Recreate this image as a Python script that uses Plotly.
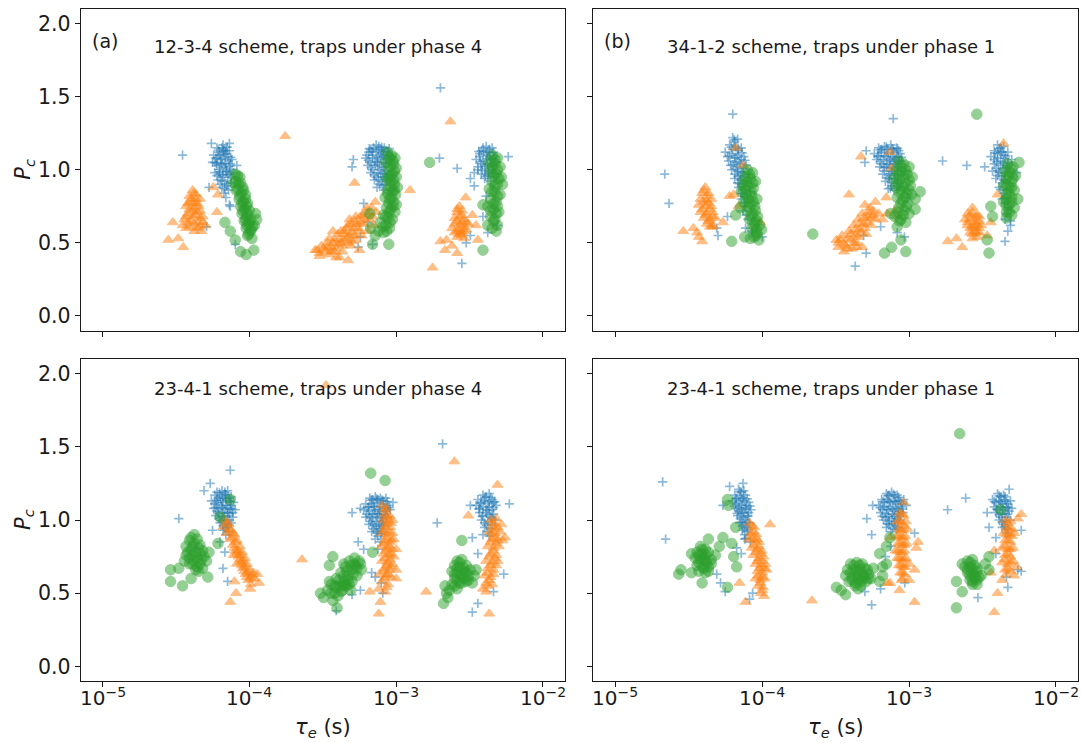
import plotly.graph_objects as go

# ---------------------------------------------------------------------------
# Emission time constant tau_e (s) and capture probability P_c for each trap,
# one list of (tau_e, P_c) pairs per scheme panel and per marker series.
# ---------------------------------------------------------------------------

# (a) 12-3-4 scheme, traps under phase 4
a_blue = [
    (6.5e-5, 1.15), (6.2e-5, 1.12), (6.9e-5, 1.13), (5.9e-5, 1.08), (6.4e-5, 1.07), (7.1e-5, 1.09),
    (6.0e-5, 1.03), (6.7e-5, 1.02), (7.4e-5, 1.04), (5.8e-5, 0.98), (6.3e-5, 0.97), (7.0e-5, 0.99),
    (6.1e-5, 0.93), (6.8e-5, 0.92), (7.5e-5, 0.95), (6.5e-5, 0.88), (7.2e-5, 0.86), (6.9e-5, 0.81),
    (7.3e-5, 0.76), (6.6e-5, 1.17), (7.6e-5, 1.00), (5.6e-5, 1.05),
    (6.0e-5, 1.15), (6.7e-5, 1.14), (7.3e-5, 1.13), (5.7e-5, 1.10), (6.3e-5, 1.10), (6.9e-5, 1.11),
    (7.6e-5, 1.07), (5.8e-5, 1.05), (6.5e-5, 1.04), (7.2e-5, 1.06), (6.2e-5, 1.00), (6.9e-5, 1.01),
    (7.8e-5, 0.98), (6.0e-5, 0.96), (6.6e-5, 0.95), (7.3e-5, 0.97), (6.3e-5, 0.90), (7.0e-5, 0.89),
    (6.7e-5, 0.84), (7.5e-5, 0.91),
    (6.15e-5, 1.135), (6.75e-5, 1.105), (7.05e-5, 1.155), (5.95e-5, 1.045), (6.55e-5, 1.075),
    (7.35e-5, 1.025), (6.25e-5, 0.985), (6.85e-5, 1.045), (7.15e-5, 0.965), (6.45e-5, 0.925),
    (7.05e-5, 0.905), (6.65e-5, 1.125), (6.35e-5, 1.035), (7.45e-5, 1.085), (6.05e-5, 1.085),
    (6.95e-5, 0.985), (6.55e-5, 0.965), (6.8e-5, 0.87),
    (3.5e-5, 1.10), (5.5e-5, 1.18), (7.3e-5, 1.18), (8.2e-5, 1.03), (5.3e-5, 0.88), (7.4e-5, 0.75),
    (8.0e-5, 0.49), (5.1e-5, 0.61),
    (7.0e-4, 1.15), (7.6e-4, 1.16), (8.3e-4, 1.15), (6.5e-4, 1.12), (7.3e-4, 1.12), (8.0e-4, 1.11),
    (8.8e-4, 1.12), (6.2e-4, 1.08), (6.9e-4, 1.08), (7.7e-4, 1.07), (8.5e-4, 1.08), (9.3e-4, 1.09),
    (6.4e-4, 1.03), (7.2e-4, 1.03), (8.0e-4, 1.02), (8.9e-4, 1.04), (6.7e-4, 0.98), (7.5e-4, 0.98),
    (8.3e-4, 0.97), (7.1e-4, 0.93), (7.9e-4, 0.92), (8.7e-4, 0.94), (7.4e-4, 0.88), (8.2e-4, 0.86),
    (6.7e-4, 1.14), (7.3e-4, 1.17), (7.9e-4, 1.14), (8.6e-4, 1.13), (6.3e-4, 1.10), (6.9e-4, 1.10),
    (7.5e-4, 1.09), (8.2e-4, 1.10), (9.0e-4, 1.10), (6.6e-4, 1.05), (7.4e-4, 1.05), (8.2e-4, 1.05),
    (9.1e-4, 1.06), (6.9e-4, 1.00), (7.7e-4, 1.00), (8.5e-4, 0.99), (7.3e-4, 0.95), (8.1e-4, 0.95),
    (8.9e-4, 0.97), (7.7e-4, 0.90), (8.4e-4, 0.90),
    (6.85e-4, 1.125), (7.55e-4, 1.135), (8.15e-4, 1.125), (8.75e-4, 1.095), (6.45e-4, 1.065),
    (7.15e-4, 1.055), (7.85e-4, 1.085), (8.45e-4, 1.045), (9.05e-4, 1.075), (6.75e-4, 1.015),
    (7.45e-4, 1.035), (8.25e-4, 1.015), (7.05e-4, 0.965), (7.85e-4, 0.975), (8.55e-4, 0.955),
    (7.55e-4, 0.935), (8.05e-4, 0.895), (7.95e-4, 1.155), (8.95e-4, 1.145), (6.55e-4, 1.145),
    (5.1e-4, 1.07), (5.0e-4, 1.02), (6.0e-4, 0.77), (6.4e-4, 0.64), (5.7e-4, 0.54), (5.5e-4, 0.47),
    (8.7e-4, 0.93), (6.9e-4, 0.49), (2.0e-3, 1.56), (1.97e-3, 1.08), (2.6e-3, 1.01),
    (3.9e-3, 1.15), (4.3e-3, 1.14), (3.7e-3, 1.11), (4.1e-3, 1.10), (4.6e-3, 1.12), (3.5e-3, 1.07),
    (3.9e-3, 1.06), (4.4e-3, 1.07), (4.8e-3, 1.05), (3.6e-3, 1.02), (4.0e-3, 1.01), (4.5e-3, 1.00),
    (3.8e-3, 0.97), (4.2e-3, 0.96), (4.7e-3, 0.95), (3.4e-3, 0.98),
    (4.1e-3, 1.16), (3.8e-3, 1.13), (4.5e-3, 1.15), (4.2e-3, 1.12), (3.7e-3, 1.09), (4.3e-3, 1.09),
    (4.7e-3, 1.09), (3.8e-3, 1.04), (4.2e-3, 1.04), (4.6e-3, 1.03), (3.6e-3, 1.00), (4.3e-3, 0.99),
    (4.0e-3, 0.94), (4.4e-3, 0.92),
    (3.95e-3, 1.125), (4.35e-3, 1.115), (4.55e-3, 1.075), (3.75e-3, 1.055), (4.15e-3, 1.075),
    (4.05e-3, 1.025), (4.45e-3, 1.035), (3.85e-3, 0.995), (4.25e-3, 0.975), (4.6e-3, 0.975),
    (3.65e-3, 1.125), (4.05e-3, 0.955),
    (5.8e-3, 1.09), (3.2e-3, 0.94), (3.4e-3, 0.89), (4.1e-3, 0.82), (3.9e-3, 0.68), (4.2e-3, 0.57),
    (4.9e-3, 0.62), (3.0e-3, 0.50), (2.8e-3, 0.36), (3.2e-3, 0.55),
]
a_orange = [
    (4.1e-5, 0.86), (3.9e-5, 0.82), (4.3e-5, 0.83), (4.0e-5, 0.78), (4.4e-5, 0.77), (3.7e-5, 0.75),
    (4.2e-5, 0.74), (4.6e-5, 0.72), (3.8e-5, 0.70), (4.3e-5, 0.69), (4.8e-5, 0.68), (3.6e-5, 0.66),
    (4.0e-5, 0.65), (4.5e-5, 0.64), (5.0e-5, 0.62), (3.9e-5, 0.61), (4.4e-5, 0.60), (3.5e-5, 0.62),
    (4.7e-5, 0.58), (4.1e-5, 0.72), (4.6e-5, 0.80),
    (4.2e-5, 0.84), (4.0e-5, 0.80), (4.3e-5, 0.80), (3.8e-5, 0.77), (4.2e-5, 0.77), (4.5e-5, 0.75),
    (3.9e-5, 0.73), (4.4e-5, 0.71), (3.7e-5, 0.68), (4.1e-5, 0.68), (4.6e-5, 0.67), (3.8e-5, 0.64),
    (4.2e-5, 0.63), (4.8e-5, 0.64), (3.7e-5, 0.60), (4.2e-5, 0.58), (4.6e-5, 0.61),
    (2.8e-5, 0.52), (3.0e-5, 0.64), (3.27e-5, 0.53), (3.54e-5, 0.47), (5.66e-5, 0.88), (6.1e-5, 0.83),
    (6.0e-5, 0.71), (1.75e-4, 1.23),
    (2.9e-4, 0.45), (3.1e-4, 0.48), (3.3e-4, 0.44), (3.4e-4, 0.50), (3.6e-4, 0.47), (3.5e-4, 0.42),
    (3.8e-4, 0.52), (3.9e-4, 0.46), (4.0e-4, 0.56), (4.2e-4, 0.50), (4.3e-4, 0.44), (4.4e-4, 0.58),
    (4.6e-4, 0.53), (4.7e-4, 0.62), (4.9e-4, 0.48), (5.0e-4, 0.57), (5.2e-4, 0.65), (5.3e-4, 0.52),
    (5.5e-4, 0.60), (5.7e-4, 0.68), (5.8e-4, 0.55), (6.0e-4, 0.63), (6.2e-4, 0.71), (6.4e-4, 0.58),
    (6.6e-4, 0.66), (6.8e-4, 0.74), (7.0e-4, 0.62), (7.2e-4, 0.78), (4.1e-4, 0.40), (3.0e-4, 0.41),
    (5.6e-4, 0.45), (4.8e-4, 0.66), (3.7e-4, 0.58),
    (3.0e-4, 0.43), (3.2e-4, 0.46), (3.4e-4, 0.47), (3.5e-4, 0.53), (3.7e-4, 0.50), (3.8e-4, 0.44),
    (4.0e-4, 0.49), (4.1e-4, 0.53), (4.2e-4, 0.58), (4.4e-4, 0.52), (4.5e-4, 0.56), (4.6e-4, 0.60),
    (4.7e-4, 0.50), (4.8e-4, 0.55), (4.9e-4, 0.63), (5.1e-4, 0.60), (5.2e-4, 0.55), (5.3e-4, 0.68),
    (5.4e-4, 0.63), (5.6e-4, 0.58), (5.7e-4, 0.64), (5.9e-4, 0.69), (6.1e-4, 0.66), (6.3e-4, 0.74),
    (6.5e-4, 0.70), (6.9e-4, 0.68), (5.0e-4, 0.51), (4.3e-4, 0.48), (3.6e-4, 0.44),
    (5.2e-4, 0.91), (1.24e-3, 0.86), (7.3e-4, 0.71), (4.7e-4, 0.38), (3.9e-4, 0.40), (2.8e-4, 0.45),
    (2.7e-3, 0.75), (2.6e-3, 0.71), (2.8e-3, 0.72), (2.5e-3, 0.67), (2.7e-3, 0.68), (2.9e-3, 0.66),
    (2.5e-3, 0.63), (2.7e-3, 0.62), (2.9e-3, 0.61), (2.6e-3, 0.58), (2.8e-3, 0.57), (3.0e-3, 0.59),
    (2.6e-3, 0.54), (2.8e-3, 0.55), (2.4e-3, 0.60), (3.1e-3, 0.63),
    (2.6e-3, 0.73), (2.8e-3, 0.69), (2.6e-3, 0.65), (2.8e-3, 0.64), (3.0e-3, 0.64), (2.7e-3, 0.59),
    (2.9e-3, 0.58), (2.5e-3, 0.57), (2.7e-3, 0.56), (2.9e-3, 0.53),
    (2.97e-3, 0.81), (2.34e-3, 1.33), (2.0e-3, 0.51), (2.2e-3, 0.52), (2.15e-3, 0.45), (2.6e-3, 0.43),
    (1.77e-3, 0.33), (3.3e-3, 0.69), (3.5e-3, 0.62), (3.6e-3, 0.52), (2.4e-3, 0.48),
]
a_green = [
    (8.0e-5, 0.97), (8.6e-5, 0.95), (7.8e-5, 0.91), (8.4e-5, 0.90), (9.0e-5, 0.88), (8.1e-5, 0.86),
    (8.8e-5, 0.84), (9.4e-5, 0.83), (8.5e-5, 0.80), (9.1e-5, 0.78), (9.7e-5, 0.77), (8.7e-5, 0.75),
    (9.3e-5, 0.73), (1.0e-4, 0.72), (8.9e-5, 0.70), (9.6e-5, 0.68), (1.02e-4, 0.66), (9.2e-5, 0.65),
    (9.9e-5, 0.63), (1.05e-4, 0.61), (9.5e-5, 0.60), (1.01e-4, 0.58), (1.08e-4, 0.62), (9.7e-5, 0.55),
    (1.04e-4, 0.53), (1.1e-4, 0.70), (1.12e-4, 0.66),
    (8.3e-5, 0.96), (8.1e-5, 0.92), (8.7e-5, 0.91), (8.3e-5, 0.87), (9.1e-5, 0.86), (8.6e-5, 0.82),
    (9.4e-5, 0.80), (8.9e-5, 0.77), (9.6e-5, 0.75), (9.0e-5, 0.72), (9.7e-5, 0.70), (9.4e-5, 0.66),
    (1.0e-4, 0.64), (9.6e-5, 0.62), (1.03e-4, 0.59), (9.9e-5, 0.56),
    (6.8e-5, 0.64), (7.4e-5, 0.58), (8.0e-5, 0.52), (8.7e-5, 0.44), (9.5e-5, 0.42), (1.07e-4, 0.45),
    (8.7e-4, 1.12), (9.3e-4, 1.10), (9.8e-4, 1.08), (8.5e-4, 1.05), (9.6e-4, 1.04), (1.0e-3, 1.01),
    (8.9e-4, 1.00), (9.4e-4, 0.97), (1.0e-3, 0.95), (8.6e-4, 0.94), (9.1e-4, 0.92), (9.7e-4, 0.90),
    (1.02e-3, 0.88), (8.8e-4, 0.87), (9.4e-4, 0.85), (9.9e-4, 0.83), (8.4e-4, 0.81), (9.0e-4, 0.80),
    (9.6e-4, 0.78), (1.0e-3, 0.76), (8.6e-4, 0.74), (9.2e-4, 0.73), (9.8e-4, 0.71), (8.2e-4, 0.69),
    (8.8e-4, 0.67), (9.4e-4, 0.66), (7.8e-4, 0.64), (8.5e-4, 0.62), (9.0e-4, 0.60), (7.6e-4, 0.58),
    (8.2e-4, 0.57), (7.2e-4, 0.55), (6.7e-4, 0.60), (6.6e-4, 0.70),
    (9.0e-4, 1.08), (9.5e-4, 1.06), (9.1e-4, 1.02), (9.7e-4, 0.99), (9.0e-4, 0.95), (9.6e-4, 0.93),
    (9.2e-4, 0.88), (9.7e-4, 0.86), (8.7e-4, 0.84), (9.3e-4, 0.81), (8.9e-4, 0.77), (9.5e-4, 0.75),
    (8.9e-4, 0.71), (8.5e-4, 0.68), (9.1e-4, 0.64), (8.1e-4, 0.61), (8.6e-4, 0.58),
    (1.69e-3, 1.05), (6.9e-4, 0.49), (8.9e-4, 0.49),
    (4.5e-3, 1.10), (4.9e-3, 1.08), (4.3e-3, 1.05), (4.7e-3, 1.04), (5.1e-3, 1.02), (4.4e-3, 0.99),
    (4.8e-3, 0.97), (5.2e-3, 0.95), (4.5e-3, 0.92), (4.9e-3, 0.90), (4.3e-3, 0.87), (4.7e-3, 0.85),
    (5.1e-3, 0.83), (4.4e-3, 0.80), (4.8e-3, 0.78), (4.2e-3, 0.75), (4.6e-3, 0.73), (5.0e-3, 0.71),
    (4.4e-3, 0.68), (4.7e-3, 0.66), (4.9e-3, 0.62), (4.5e-3, 0.60), (4.8e-3, 0.58), (5.3e-3, 0.90),
    (4.7e-3, 1.07), (4.5e-3, 1.02), (4.9e-3, 1.00), (4.6e-3, 0.96), (5.0e-3, 0.94), (4.7e-3, 0.89),
    (4.5e-3, 0.85), (4.9e-3, 0.82), (4.6e-3, 0.77), (4.9e-3, 0.75), (4.4e-3, 0.72), (4.8e-3, 0.70),
    (4.6e-3, 0.65),
    (3.9e-3, 0.76), (4.2e-3, 0.62), (3.9e-3, 0.45),
]

# (b) 34-1-2 scheme, traps under phase 1
b_blue = [
    (6.3e-5, 1.22), (6.8e-5, 1.21), (6.0e-5, 1.17), (6.6e-5, 1.16), (7.2e-5, 1.15), (5.6e-5, 1.12),
    (6.2e-5, 1.11), (6.8e-5, 1.10), (7.5e-5, 1.09), (5.9e-5, 1.06), (6.5e-5, 1.05), (7.1e-5, 1.04),
    (7.8e-5, 1.03), (6.2e-5, 1.00), (6.8e-5, 0.99), (7.4e-5, 0.98), (8.1e-5, 0.97), (6.5e-5, 0.94),
    (7.1e-5, 0.93), (7.7e-5, 0.92), (6.9e-5, 0.88), (7.5e-5, 0.86), (8.3e-5, 0.85), (7.2e-5, 0.80),
    (7.9e-5, 0.78), (7.4e-5, 0.72), (8.0e-5, 0.66), (7.7e-5, 0.60), (8.5e-5, 0.58),
    (6.5e-5, 1.19), (6.3e-5, 1.14), (6.9e-5, 1.13), (5.8e-5, 1.09), (6.5e-5, 1.08), (7.2e-5, 1.07),
    (6.1e-5, 1.03), (6.8e-5, 1.02), (7.5e-5, 1.01), (6.5e-5, 0.97), (7.1e-5, 0.96), (6.8e-5, 0.91),
    (7.4e-5, 0.90), (7.2e-5, 0.84), (7.6e-5, 0.82), (7.6e-5, 0.75), (7.8e-5, 0.69),
    (6.45e-5, 1.205), (6.15e-5, 1.155), (6.85e-5, 1.145), (6.0e-5, 1.095), (6.65e-5, 1.085),
    (7.3e-5, 1.115), (6.35e-5, 1.035), (7.0e-5, 1.055), (7.65e-5, 1.065), (6.65e-5, 1.005),
    (7.25e-5, 0.985), (6.85e-5, 0.955), (7.45e-5, 0.945), (7.0e-5, 0.905), (7.7e-5, 0.885),
    (7.35e-5, 0.835), (7.85e-5, 0.815), (7.55e-5, 0.775),
    (6.3e-5, 1.38), (2.17e-5, 0.97), (2.32e-5, 0.77), (5.8e-5, 0.68), (5.0e-5, 0.55), (4.9e-5, 0.60),
    (1.0e-4, 0.54), (8.6e-5, 0.57),
    (6.2e-4, 1.15), (6.8e-4, 1.16), (7.5e-4, 1.17), (8.2e-4, 1.15), (5.8e-4, 1.11), (6.5e-4, 1.12),
    (7.2e-4, 1.11), (7.9e-4, 1.12), (8.7e-4, 1.11), (6.0e-4, 1.07), (6.7e-4, 1.07), (7.4e-4, 1.06),
    (8.1e-4, 1.07), (8.9e-4, 1.06), (6.3e-4, 1.02), (7.0e-4, 1.02), (7.7e-4, 1.01), (8.4e-4, 1.02),
    (6.6e-4, 0.97), (7.3e-4, 0.96), (8.0e-4, 0.97), (8.8e-4, 0.96), (6.9e-4, 0.92), (7.6e-4, 0.91),
    (8.3e-4, 0.92), (7.2e-4, 0.87), (7.9e-4, 0.86), (8.6e-4, 0.88), (9.3e-4, 0.99),
    (6.5e-4, 1.14), (7.1e-4, 1.14), (7.8e-4, 1.14), (8.5e-4, 1.13), (6.2e-4, 1.09), (7.0e-4, 1.09),
    (7.7e-4, 1.09), (8.4e-4, 1.09), (6.5e-4, 1.04), (7.3e-4, 1.04), (8.0e-4, 1.04), (8.7e-4, 1.04),
    (6.8e-4, 0.99), (7.6e-4, 0.99), (8.4e-4, 0.99), (7.3e-4, 0.94), (8.0e-4, 0.94), (7.6e-4, 0.89),
    (8.3e-4, 0.89),
    (6.35e-4, 1.135), (7.0e-4, 1.155), (7.65e-4, 1.145), (8.35e-4, 1.145), (6.1e-4, 1.095),
    (6.8e-4, 1.095), (7.5e-4, 1.075), (8.2e-4, 1.085), (8.9e-4, 1.085), (6.4e-4, 1.055),
    (7.1e-4, 1.035), (7.85e-4, 1.055), (8.55e-4, 1.055), (6.75e-4, 1.015), (7.45e-4, 0.975),
    (8.2e-4, 1.005), (7.1e-4, 0.945), (7.85e-4, 0.935), (8.45e-4, 0.905), (7.45e-4, 0.875),
    (7.8e-4, 1.35), (5.1e-4, 1.13), (5.0e-4, 1.05), (4.9e-4, 0.55), (5.1e-4, 0.43), (4.3e-4, 0.34),
    (1.69e-3, 1.06), (9.3e-4, 0.54), (9.8e-4, 0.81), (8.3e-4, 0.57), (6.4e-4, 0.61),
    (4.0e-3, 1.17), (4.4e-3, 1.16), (3.8e-3, 1.13), (4.2e-3, 1.12), (4.7e-3, 1.12), (3.6e-3, 1.09),
    (4.0e-3, 1.08), (4.5e-3, 1.08), (5.0e-3, 1.07), (3.8e-3, 1.04), (4.2e-3, 1.03), (4.7e-3, 1.03),
    (3.7e-3, 0.99), (4.1e-3, 0.98), (4.5e-3, 0.98), (3.9e-3, 0.94), (4.4e-3, 0.93), (4.1e-3, 0.88),
    (4.6e-3, 0.86), (4.3e-3, 0.80), (4.7e-3, 0.74), (4.5e-3, 0.66), (4.9e-3, 0.62),
    (4.2e-3, 1.15), (4.0e-3, 1.11), (4.4e-3, 1.10), (3.8e-3, 1.07), (4.2e-3, 1.06), (4.7e-3, 1.05),
    (3.9e-3, 1.01), (4.4e-3, 1.01), (4.0e-3, 0.96), (4.3e-3, 0.91), (4.4e-3, 0.84), (4.5e-3, 0.77),
    (4.6e-3, 0.70),
    (4.1e-3, 1.145), (3.85e-3, 1.115), (4.3e-3, 1.125), (4.55e-3, 1.095), (3.95e-3, 1.055),
    (4.35e-3, 1.045), (4.6e-3, 1.015), (4.05e-3, 0.995), (4.25e-3, 0.955), (4.5e-3, 0.925),
    (4.2e-3, 0.865), (4.45e-3, 0.805),
    (2.47e-3, 1.03), (3.27e-3, 1.02), (4.5e-3, 0.51), (4.7e-3, 0.58), (4.9e-3, 0.65), (5.4e-3, 0.98),
]
b_orange = [
    (4.1e-5, 0.88), (3.9e-5, 0.84), (4.3e-5, 0.84), (3.8e-5, 0.80), (4.2e-5, 0.79), (4.5e-5, 0.80),
    (3.7e-5, 0.76), (4.1e-5, 0.75), (4.5e-5, 0.75), (3.8e-5, 0.71), (4.2e-5, 0.70), (4.6e-5, 0.71),
    (4.0e-5, 0.67), (4.4e-5, 0.66), (4.8e-5, 0.67), (4.2e-5, 0.63), (4.6e-5, 0.62),
    (4.0e-5, 0.86), (4.2e-5, 0.82), (4.0e-5, 0.78), (4.3e-5, 0.77), (3.9e-5, 0.73), (4.4e-5, 0.73),
    (4.1e-5, 0.69), (4.6e-5, 0.68), (4.3e-5, 0.65), (4.4e-5, 0.61),
    (2.9e-5, 0.58), (3.4e-5, 0.60), (3.6e-5, 0.57), (3.9e-5, 0.51), (4.6e-5, 0.61), (5.4e-5, 0.64),
    (6.0e-5, 0.82), (6.4e-5, 0.83), (6.9e-5, 0.75), (6.6e-5, 1.15), (7.4e-5, 1.03), (9.7e-5, 0.64),
    (3.7e-5, 0.54),
    (3.3e-4, 0.50), (3.5e-4, 0.55), (3.7e-4, 0.48), (3.9e-4, 0.58), (4.0e-4, 0.52), (4.2e-4, 0.62),
    (4.3e-4, 0.55), (4.5e-4, 0.66), (4.6e-4, 0.59), (4.8e-4, 0.70), (4.9e-4, 0.63), (5.1e-4, 0.56),
    (5.2e-4, 0.68), (5.4e-4, 0.74), (5.5e-4, 0.62), (5.7e-4, 0.72), (5.9e-4, 0.66), (4.1e-4, 0.46),
    (3.6e-4, 0.44), (4.4e-4, 0.50), (5.0e-4, 0.76), (6.2e-4, 0.70),
    (3.4e-4, 0.52), (3.6e-4, 0.49), (3.8e-4, 0.53), (4.0e-4, 0.56), (4.2e-4, 0.50), (4.3e-4, 0.59),
    (4.5e-4, 0.54), (4.6e-4, 0.63), (4.7e-4, 0.57), (4.9e-4, 0.67), (5.0e-4, 0.60), (5.2e-4, 0.64),
    (5.3e-4, 0.71), (5.5e-4, 0.67), (5.7e-4, 0.69), (4.4e-4, 0.47), (3.8e-4, 0.46),
    (4.7e-4, 1.09), (3.9e-4, 0.83), (3.2e-4, 0.52), (3.3e-4, 0.47), (4.8e-4, 0.47), (5.9e-4, 0.78),
    (7.0e-4, 0.81), (8.0e-4, 0.72), (8.4e-4, 0.68), (7.4e-4, 1.12), (7.6e-4, 1.01), (7.1e-4, 0.70),
    (6.6e-4, 0.66),
    (2.5e-3, 0.70), (2.7e-3, 0.71), (2.4e-3, 0.66), (2.6e-3, 0.66), (2.8e-3, 0.67), (3.0e-3, 0.68),
    (2.5e-3, 0.62), (2.7e-3, 0.61), (2.9e-3, 0.63), (3.1e-3, 0.62), (2.6e-3, 0.57), (2.8e-3, 0.58),
    (3.0e-3, 0.57), (2.7e-3, 0.53), (2.9e-3, 0.54),
    (2.6e-3, 0.69), (2.9e-3, 0.69), (2.5e-3, 0.64), (2.8e-3, 0.64), (3.0e-3, 0.65), (2.6e-3, 0.60),
    (2.8e-3, 0.61), (3.0e-3, 0.60), (2.7e-3, 0.56), (2.9e-3, 0.57),
    (4.4e-3, 1.18), (4.0e-3, 0.83), (1.83e-3, 0.51), (2.1e-3, 0.53), (2.3e-3, 0.47), (2.7e-3, 0.74),
    (3.4e-3, 0.55), (3.6e-3, 0.64),
]
b_green = [
    (7.9e-5, 1.00), (8.6e-5, 0.98), (7.6e-5, 0.95), (8.3e-5, 0.94), (9.0e-5, 0.92), (7.4e-5, 0.90),
    (8.0e-5, 0.89), (8.7e-5, 0.87), (7.2e-5, 0.85), (7.8e-5, 0.83), (8.5e-5, 0.82), (9.2e-5, 0.80),
    (7.5e-5, 0.78), (8.2e-5, 0.77), (8.9e-5, 0.75), (7.9e-5, 0.72), (8.6e-5, 0.70), (9.3e-5, 0.68),
    (8.2e-5, 0.66), (8.9e-5, 0.64), (9.6e-5, 0.62), (8.5e-5, 0.60), (9.2e-5, 0.57), (9.9e-5, 0.59),
    (8.8e-5, 0.54), (9.5e-5, 0.52),
    (8.2e-5, 0.97), (7.8e-5, 0.92), (8.6e-5, 0.91), (7.6e-5, 0.87), (8.4e-5, 0.85), (8.0e-5, 0.80),
    (8.7e-5, 0.78), (8.2e-5, 0.74), (9.0e-5, 0.72), (8.5e-5, 0.68), (9.2e-5, 0.65), (8.8e-5, 0.62),
    (9.1e-5, 0.59), (9.1e-5, 0.55),
    (6.2e-5, 0.51), (6.6e-5, 0.69), (7.1e-5, 0.74), (7.6e-5, 0.54), (8.3e-5, 0.53), (2.21e-4, 0.56),
    (8.5e-4, 1.06), (9.2e-4, 1.04), (1.0e-3, 1.02), (8.2e-4, 1.00), (8.9e-4, 0.99), (9.7e-4, 0.97),
    (1.05e-3, 0.95), (7.9e-4, 0.94), (8.6e-4, 0.93), (9.4e-4, 0.91), (1.02e-3, 0.89), (8.1e-4, 0.88),
    (8.8e-4, 0.86), (9.6e-4, 0.84), (1.04e-3, 0.83), (8.3e-4, 0.81), (9.0e-4, 0.79), (9.8e-4, 0.77),
    (1.1e-3, 0.80), (8.5e-4, 0.74), (9.3e-4, 0.72), (1.0e-3, 0.70), (8.0e-4, 0.68), (8.8e-4, 0.66),
    (9.5e-4, 0.64), (7.5e-4, 0.70), (8.3e-4, 0.61),
    (8.8e-4, 1.03), (9.5e-4, 1.00), (8.5e-4, 0.97), (9.2e-4, 0.95), (1.0e-3, 0.93), (8.5e-4, 0.90),
    (9.2e-4, 0.88), (1.0e-3, 0.86), (8.7e-4, 0.84), (9.4e-4, 0.81), (8.8e-4, 0.77), (9.6e-4, 0.75),
    (8.4e-4, 0.71), (9.1e-4, 0.69), (8.6e-4, 0.65),
    (6.8e-4, 0.43), (7.6e-4, 0.47), (9.5e-4, 0.44), (8.8e-4, 0.52), (1.19e-3, 0.85), (1.1e-3, 0.73),
    (4.7e-3, 1.04), (5.1e-3, 1.02), (4.5e-3, 0.99), (4.9e-3, 0.98), (5.3e-3, 0.96), (4.6e-3, 0.94),
    (5.0e-3, 0.92), (4.4e-3, 0.89), (4.8e-3, 0.88), (5.2e-3, 0.86), (4.6e-3, 0.83), (5.0e-3, 0.81),
    (4.4e-3, 0.78), (4.8e-3, 0.76), (5.2e-3, 0.74), (4.6e-3, 0.71), (5.0e-3, 0.69), (5.5e-3, 0.80),
    (5.6e-3, 1.05),
    (4.9e-3, 1.01), (4.7e-3, 0.96), (5.1e-3, 0.94), (4.6e-3, 0.90), (5.0e-3, 0.88), (4.8e-3, 0.84),
    (4.6e-3, 0.80), (5.0e-3, 0.78), (4.6e-3, 0.75), (4.8e-3, 0.71),
    (2.89e-3, 1.38), (3.6e-3, 0.75), (3.7e-3, 0.68), (3.4e-3, 0.52), (3.5e-3, 0.43), (4.6e-3, 0.67),
]

# (c) 23-4-1 scheme, traps under phase 4
c_blue = [
    (6.5e-5, 1.20), (7.1e-5, 1.20), (5.8e-5, 1.17), (6.3e-5, 1.16), (6.9e-5, 1.17), (7.5e-5, 1.16),
    (5.5e-5, 1.13), (6.0e-5, 1.12), (6.6e-5, 1.12), (7.2e-5, 1.13), (7.8e-5, 1.12), (5.7e-5, 1.08),
    (6.2e-5, 1.08), (6.8e-5, 1.07), (7.4e-5, 1.08), (8.0e-5, 1.07), (5.9e-5, 1.03), (6.5e-5, 1.02),
    (7.1e-5, 1.03), (7.7e-5, 1.02), (6.3e-5, 0.98), (6.9e-5, 0.97), (7.5e-5, 0.98), (6.6e-5, 0.93),
    (7.2e-5, 0.92),
    (6.0e-5, 1.19), (6.8e-5, 1.19), (6.1e-5, 1.15), (6.6e-5, 1.15), (7.3e-5, 1.15), (5.8e-5, 1.11),
    (6.4e-5, 1.10), (6.9e-5, 1.10), (7.5e-5, 1.10), (6.0e-5, 1.06), (6.6e-5, 1.05), (7.1e-5, 1.05),
    (7.7e-5, 1.05), (6.2e-5, 1.01), (6.8e-5, 1.00), (7.3e-5, 1.00), (6.6e-5, 0.96), (7.1e-5, 0.95),
    (6.9e-5, 0.90),
    (6.25e-5, 1.185), (6.95e-5, 1.145), (5.95e-5, 1.135), (6.45e-5, 1.135), (7.4e-5, 1.125),
    (5.85e-5, 1.085), (6.5e-5, 1.085), (7.05e-5, 1.085), (7.6e-5, 1.075), (6.1e-5, 1.045),
    (6.7e-5, 1.025), (7.3e-5, 1.045), (6.4e-5, 0.995), (7.0e-5, 0.985), (6.75e-5, 0.945),
    (7.25e-5, 0.965), (6.8e-5, 1.175),
    (7.4e-5, 1.34), (3.3e-5, 1.01), (4.9e-5, 1.20), (5.4e-5, 1.25), (5.6e-5, 0.93), (6.3e-5, 0.85),
    (6.8e-5, 0.78), (6.6e-5, 0.67), (7.1e-5, 0.58),
    (6.6e-4, 1.15), (7.2e-4, 1.16), (7.8e-4, 1.15), (8.5e-4, 1.15), (6.2e-4, 1.11), (6.8e-4, 1.11),
    (7.4e-4, 1.12), (8.1e-4, 1.11), (8.8e-4, 1.10), (6.0e-4, 1.07), (6.5e-4, 1.06), (7.1e-4, 1.07),
    (7.7e-4, 1.06), (8.4e-4, 1.06), (9.1e-4, 1.07), (6.2e-4, 1.02), (6.8e-4, 1.01), (7.4e-4, 1.02),
    (8.0e-4, 1.01), (8.7e-4, 1.02), (6.5e-4, 0.97), (7.1e-4, 0.96), (7.7e-4, 0.97), (8.3e-4, 0.96),
    (6.8e-4, 0.92), (7.4e-4, 0.91), (8.0e-4, 0.92), (7.2e-4, 0.87), (7.8e-4, 0.85), (7.5e-4, 0.80),
    (9.5e-4, 1.12), (5.7e-4, 1.08),
    (6.9e-4, 1.14), (7.5e-4, 1.14), (8.2e-4, 1.13), (6.5e-4, 1.09), (7.1e-4, 1.09), (7.8e-4, 1.09),
    (8.6e-4, 1.08), (6.3e-4, 1.04), (6.9e-4, 1.04), (7.5e-4, 1.04), (8.2e-4, 1.04), (6.7e-4, 0.99),
    (7.3e-4, 0.99), (8.0e-4, 0.99), (7.0e-4, 0.94), (7.7e-4, 0.94), (7.5e-4, 0.89),
    (6.75e-4, 1.135), (7.35e-4, 1.145), (8.0e-4, 1.135), (8.7e-4, 1.125), (6.4e-4, 1.085),
    (7.0e-4, 1.095), (7.65e-4, 1.075), (8.35e-4, 1.085), (9.0e-4, 1.085), (6.6e-4, 1.025),
    (7.2e-4, 1.045), (7.85e-4, 1.025), (8.5e-4, 1.035), (6.9e-4, 0.975), (7.55e-4, 0.955),
    (8.15e-4, 0.975), (7.3e-4, 0.925), (7.9e-4, 0.905),
    (5.0e-4, 1.05), (5.5e-4, 0.85), (6.0e-4, 0.80), (6.8e-4, 0.64), (7.2e-4, 0.61), (5.0e-4, 0.49),
    (5.7e-4, 0.52), (3.9e-4, 0.38), (8.1e-4, 0.50), (7.9e-4, 0.57), (2.07e-3, 1.52), (1.9e-3, 0.98),
    (3.9e-3, 1.17), (4.3e-3, 1.18), (3.6e-3, 1.14), (4.0e-3, 1.13), (4.5e-3, 1.14), (3.5e-3, 1.10),
    (3.9e-3, 1.09), (4.3e-3, 1.09), (4.8e-3, 1.10), (3.7e-3, 1.05), (4.1e-3, 1.05), (4.6e-3, 1.04),
    (3.8e-3, 1.00), (4.2e-3, 0.99), (4.7e-3, 1.00), (4.0e-3, 0.95), (4.4e-3, 0.94), (3.9e-3, 0.90),
    (4.3e-3, 0.89),
    (4.1e-3, 1.16), (3.8e-3, 1.12), (4.2e-3, 1.11), (4.6e-3, 1.12), (3.7e-3, 1.08), (4.1e-3, 1.07),
    (4.5e-3, 1.07), (3.9e-3, 1.03), (4.4e-3, 1.02), (4.0e-3, 0.98), (4.5e-3, 0.97), (4.2e-3, 0.92),
    (4.0e-3, 1.155), (4.4e-3, 1.155), (3.75e-3, 1.115), (4.3e-3, 1.125), (4.7e-3, 1.125),
    (3.65e-3, 1.075), (4.2e-3, 1.065), (4.6e-3, 1.085), (3.85e-3, 1.025), (4.3e-3, 1.035),
    (4.1e-3, 0.965), (4.5e-3, 1.01),
    (5.9e-3, 1.11), (3.3e-3, 0.88), (3.6e-3, 0.77), (5.4e-3, 0.63), (4.6e-3, 0.51), (3.6e-3, 0.43),
    (3.3e-3, 0.37), (3.2e-3, 1.10),
]
c_orange = [
    (6.8e-5, 1.00), (7.2e-5, 0.97), (6.6e-5, 0.95), (7.5e-5, 0.93), (7.0e-5, 0.91), (7.9e-5, 0.90),
    (7.4e-5, 0.87), (8.2e-5, 0.86), (7.7e-5, 0.83), (8.6e-5, 0.82), (8.0e-5, 0.79), (8.9e-5, 0.78),
    (8.4e-5, 0.75), (9.3e-5, 0.74), (8.7e-5, 0.71), (9.6e-5, 0.70), (9.0e-5, 0.67), (1.0e-4, 0.66),
    (9.4e-5, 0.63), (1.04e-4, 0.62), (9.8e-5, 0.59), (1.08e-4, 0.60), (1.13e-4, 0.63), (1.02e-4, 0.56),
    (8.2e-5, 0.70), (7.8e-5, 0.76),
    (7.0e-5, 0.98), (7.3e-5, 0.94), (7.7e-5, 0.91), (7.6e-5, 0.88), (8.0e-5, 0.85), (7.9e-5, 0.81),
    (8.4e-5, 0.79), (8.2e-5, 0.77), (8.7e-5, 0.76), (8.6e-5, 0.73), (9.0e-5, 0.72), (8.9e-5, 0.69),
    (9.3e-5, 0.68), (9.2e-5, 0.65), (9.7e-5, 0.64), (9.6e-5, 0.61), (1.02e-4, 0.60), (1.06e-4, 0.64),
    (7.4e-5, 0.44), (8.1e-5, 0.50), (1.01e-4, 0.53), (1.16e-4, 0.57), (7.9e-5, 0.58), (2.28e-4, 0.73),
    (8.0e-4, 1.10), (8.6e-4, 1.08), (8.3e-4, 1.04), (9.0e-4, 1.03), (8.1e-4, 1.00), (8.8e-4, 0.99),
    (9.4e-4, 1.00), (8.4e-4, 0.95), (9.1e-4, 0.95), (8.0e-4, 0.91), (8.7e-4, 0.90), (9.4e-4, 0.91),
    (8.3e-4, 0.86), (9.0e-4, 0.85), (9.6e-4, 0.87), (7.9e-4, 0.82), (8.6e-4, 0.81), (9.3e-4, 0.80),
    (8.2e-4, 0.77), (8.9e-4, 0.76), (9.6e-4, 0.75), (8.0e-4, 0.72), (8.7e-4, 0.71), (9.4e-4, 0.70),
    (8.3e-4, 0.67), (9.0e-4, 0.66), (7.7e-4, 0.63), (8.5e-4, 0.62), (9.2e-4, 0.61), (8.0e-4, 0.58),
    (8.8e-4, 0.56), (7.6e-4, 0.53), (8.4e-4, 0.51), (1.0e-3, 0.80), (1.0e-3, 0.66),
    (8.3e-4, 1.07), (8.7e-4, 1.02), (8.5e-4, 0.97), (9.2e-4, 0.98), (8.2e-4, 0.93), (8.9e-4, 0.92),
    (8.6e-4, 0.88), (9.3e-4, 0.86), (8.3e-4, 0.84), (9.0e-4, 0.82), (8.5e-4, 0.79), (9.2e-4, 0.77),
    (8.4e-4, 0.74), (9.1e-4, 0.73), (8.6e-4, 0.69), (9.2e-4, 0.68), (8.2e-4, 0.65), (8.8e-4, 0.63),
    (8.3e-4, 0.60), (8.6e-4, 0.54),
    (1.6e-3, 0.51), (2.49e-3, 1.40), (7.6e-4, 0.36), (6.6e-4, 0.51), (7.8e-4, 0.44), (1.0e-3, 0.60),
    (3.32e-4, 1.92),
    (4.4e-3, 1.00), (4.8e-3, 1.01), (4.5e-3, 0.96), (4.9e-3, 0.95), (4.3e-3, 0.92), (4.7e-3, 0.91),
    (5.1e-3, 0.92), (4.5e-3, 0.87), (4.9e-3, 0.86), (4.2e-3, 0.82), (4.6e-3, 0.81), (5.0e-3, 0.82),
    (4.4e-3, 0.77), (4.8e-3, 0.76), (4.1e-3, 0.72), (4.5e-3, 0.71), (4.9e-3, 0.72), (4.2e-3, 0.67),
    (4.6e-3, 0.66), (4.0e-3, 0.62), (4.4e-3, 0.61), (4.1e-3, 0.57), (4.5e-3, 0.56), (3.9e-3, 0.53),
    (5.2e-3, 0.97), (5.3e-3, 0.86),
    (4.6e-3, 0.98), (4.7e-3, 0.94), (4.5e-3, 0.90), (4.8e-3, 0.88), (4.4e-3, 0.85), (4.8e-3, 0.84),
    (4.6e-3, 0.79), (4.3e-3, 0.75), (4.7e-3, 0.74), (4.4e-3, 0.69), (4.8e-3, 0.69), (4.2e-3, 0.64),
    (4.6e-3, 0.63), (4.3e-3, 0.59), (4.2e-3, 0.55),
    (4.9e-3, 1.24), (3.1e-3, 1.03), (4.1e-3, 0.51), (4.3e-3, 0.36), (5.5e-3, 0.88),
]
c_green = [
    (4.2e-5, 0.90), (3.9e-5, 0.86), (4.4e-5, 0.87), (3.7e-5, 0.82), (4.1e-5, 0.82), (4.6e-5, 0.83),
    (3.8e-5, 0.78), (4.3e-5, 0.78), (4.8e-5, 0.79), (3.9e-5, 0.74), (4.4e-5, 0.74), (4.9e-5, 0.75),
    (4.1e-5, 0.70), (4.6e-5, 0.70), (4.3e-5, 0.66), (4.8e-5, 0.67), (3.6e-5, 0.72), (5.1e-5, 0.72),
    (4.0e-5, 0.88), (4.2e-5, 0.84), (4.0e-5, 0.80), (4.5e-5, 0.81), (4.1e-5, 0.76), (4.6e-5, 0.77),
    (3.7e-5, 0.76), (4.2e-5, 0.72), (4.7e-5, 0.73), (3.9e-5, 0.70), (4.4e-5, 0.68), (4.5e-5, 0.65),
    (2.9e-5, 0.66), (2.9e-5, 0.58), (3.3e-5, 0.67), (3.5e-5, 0.55), (4.0e-5, 0.60), (5.2e-5, 0.61),
    (6.1e-5, 0.84), (5.3e-5, 0.78), (7.4e-5, 1.14), (6.3e-5, 1.02),
    (3.4e-4, 0.52), (3.6e-4, 0.56), (3.8e-4, 0.50), (3.9e-4, 0.60), (4.1e-4, 0.55), (4.2e-4, 0.64),
    (4.4e-4, 0.58), (4.5e-4, 0.68), (4.7e-4, 0.62), (4.8e-4, 0.72), (5.0e-4, 0.66), (5.2e-4, 0.74),
    (5.3e-4, 0.69), (5.6e-4, 0.72), (4.0e-4, 0.48), (3.7e-4, 0.45), (4.3e-4, 0.52), (4.6e-4, 0.55),
    (5.0e-4, 0.58), (5.4e-4, 0.62), (4.9e-4, 0.52), (5.8e-4, 0.66), (3.5e-4, 0.58), (4.4e-4, 0.70),
    (3.6e-4, 0.50), (3.9e-4, 0.54), (4.1e-4, 0.59), (4.2e-4, 0.51), (4.4e-4, 0.62), (4.5e-4, 0.56),
    (4.6e-4, 0.65), (4.7e-4, 0.59), (4.9e-4, 0.69), (5.1e-4, 0.63), (5.2e-4, 0.70), (5.4e-4, 0.67),
    (4.8e-4, 0.56), (4.3e-4, 0.55), (3.8e-4, 0.55), (5.7e-4, 0.70),
    (6.7e-4, 1.32), (8.4e-4, 1.27), (3.7e-4, 0.75), (3.5e-4, 0.69), (3.05e-4, 0.50), (3.95e-4, 0.40),
    (6.9e-4, 0.78), (3.2e-4, 0.47),
    (2.6e-3, 0.72), (2.8e-3, 0.73), (2.5e-3, 0.69), (2.7e-3, 0.68), (3.0e-3, 0.69), (2.4e-3, 0.65),
    (2.6e-3, 0.64), (2.9e-3, 0.65), (3.2e-3, 0.66), (2.5e-3, 0.60), (2.8e-3, 0.61), (3.1e-3, 0.62),
    (3.4e-3, 0.62), (2.4e-3, 0.56), (2.7e-3, 0.57), (3.0e-3, 0.58), (2.3e-3, 0.52), (2.6e-3, 0.53),
    (3.3e-3, 0.57), (3.5e-3, 0.66),
    (2.7e-3, 0.71), (2.6e-3, 0.67), (2.9e-3, 0.67), (2.5e-3, 0.63), (2.8e-3, 0.63), (3.0e-3, 0.64),
    (2.6e-3, 0.59), (2.9e-3, 0.60), (2.5e-3, 0.55), (2.8e-3, 0.57), (3.1e-3, 0.59),
    (2.8e-3, 0.86), (2.1e-3, 0.43), (2.2e-3, 0.50), (2.15e-3, 0.55), (2.25e-3, 0.47),
]

# (d) 23-4-1 scheme, traps under phase 1
d_blue = [
    (6.9e-5, 1.21), (7.5e-5, 1.20), (6.5e-5, 1.17), (7.1e-5, 1.16), (7.7e-5, 1.17), (6.3e-5, 1.13),
    (6.9e-5, 1.12), (7.5e-5, 1.13), (8.1e-5, 1.12), (6.6e-5, 1.08), (7.2e-5, 1.07), (7.8e-5, 1.08),
    (8.4e-5, 1.07), (6.8e-5, 1.03), (7.4e-5, 1.02), (8.0e-5, 1.03), (7.0e-5, 0.98), (7.6e-5, 0.97),
    (8.2e-5, 0.98), (7.3e-5, 0.93), (7.9e-5, 0.92), (7.6e-5, 0.87), (8.3e-5, 0.85),
    (7.2e-5, 1.19), (6.7e-5, 1.15), (7.4e-5, 1.15), (6.6e-5, 1.11), (7.2e-5, 1.10), (7.8e-5, 1.10),
    (6.9e-5, 1.06), (7.5e-5, 1.05), (8.1e-5, 1.05), (7.1e-5, 1.01), (7.7e-5, 1.00), (7.3e-5, 0.96),
    (7.9e-5, 0.95), (7.6e-5, 0.90),
    (7.05e-5, 1.195), (6.6e-5, 1.145), (7.3e-5, 1.135), (7.9e-5, 1.145), (6.45e-5, 1.095),
    (7.0e-5, 1.085), (7.65e-5, 1.085), (8.25e-5, 1.095), (6.75e-5, 1.045), (7.3e-5, 1.045),
    (7.95e-5, 1.025), (7.2e-5, 0.985), (7.8e-5, 0.985), (7.45e-5, 0.945), (8.05e-5, 0.935),
    (7.7e-5, 0.875),
    (2.1e-5, 1.26), (2.2e-5, 0.87), (7.4e-5, 1.25), (6.0e-5, 1.23), (5.4e-5, 1.10), (6.7e-5, 0.81),
    (7.2e-5, 0.77), (4.9e-5, 0.63), (5.2e-5, 0.57), (5.6e-5, 0.51), (8.6e-5, 0.50), (8.2e-5, 0.46),
    (7.0e-4, 1.18), (7.6e-4, 1.19), (8.3e-4, 1.17), (6.5e-4, 1.14), (7.1e-4, 1.14), (7.8e-4, 1.13),
    (8.5e-4, 1.13), (9.2e-4, 1.14), (6.2e-4, 1.10), (6.8e-4, 1.09), (7.4e-4, 1.09), (8.1e-4, 1.08),
    (8.8e-4, 1.09), (6.4e-4, 1.05), (7.0e-4, 1.04), (7.7e-4, 1.04), (8.4e-4, 1.04), (9.1e-4, 1.05),
    (6.7e-4, 1.00), (7.3e-4, 0.99), (8.0e-4, 0.99), (8.7e-4, 1.00), (7.0e-4, 0.95), (7.7e-4, 0.94),
    (8.4e-4, 0.95), (9.6e-4, 1.10),
    (7.3e-4, 1.17), (8.0e-4, 1.16), (6.8e-4, 1.12), (7.5e-4, 1.12), (8.2e-4, 1.11), (8.9e-4, 1.11),
    (6.6e-4, 1.07), (7.2e-4, 1.07), (7.9e-4, 1.06), (8.6e-4, 1.06), (6.9e-4, 1.02), (7.6e-4, 1.01),
    (8.3e-4, 1.01), (7.3e-4, 0.97), (8.0e-4, 0.96), (7.5e-4, 0.92),
    (7.15e-4, 1.165), (7.85e-4, 1.175), (8.5e-4, 1.155), (6.65e-4, 1.125), (7.3e-4, 1.125),
    (8.05e-4, 1.125), (8.75e-4, 1.125), (6.35e-4, 1.085), (7.05e-4, 1.075), (7.7e-4, 1.075),
    (8.4e-4, 1.075), (9.0e-4, 1.075), (6.55e-4, 1.025), (7.25e-4, 1.025), (7.95e-4, 1.025),
    (8.6e-4, 1.025), (7.1e-4, 0.975), (7.85e-4, 0.975), (8.2e-4, 0.935),
    (5.65e-4, 1.10), (5.15e-4, 1.01), (5.56e-4, 0.90), (5.56e-4, 0.42), (5.0e-4, 0.51), (1.83e-3, 1.07),
    (2.43e-3, 1.15), (1.09e-3, 0.91), (9.35e-4, 0.57), (6.4e-4, 0.53), (7.5e-4, 0.82), (6.9e-4, 0.75),
    (4.0e-3, 1.18), (4.4e-3, 1.17), (3.7e-3, 1.14), (4.1e-3, 1.13), (4.5e-3, 1.14), (4.9e-3, 1.13),
    (3.8e-3, 1.09), (4.2e-3, 1.09), (4.6e-3, 1.09), (5.0e-3, 1.08), (3.9e-3, 1.05), (4.3e-3, 1.04),
    (4.7e-3, 1.04), (4.1e-3, 1.00), (4.5e-3, 0.99), (4.9e-3, 1.00), (4.3e-3, 0.95), (4.7e-3, 0.94),
    (4.2e-3, 1.16), (3.9e-3, 1.12), (4.3e-3, 1.11), (4.7e-3, 1.11), (4.0e-3, 1.07), (4.4e-3, 1.07),
    (4.8e-3, 1.06), (4.2e-3, 1.02), (4.6e-3, 1.02), (4.4e-3, 0.97), (4.6e-3, 0.91),
    (4.1e-3, 1.165), (4.5e-3, 1.16), (3.8e-3, 1.125), (4.2e-3, 1.125), (4.6e-3, 1.125),
    (3.95e-3, 1.075), (4.35e-3, 1.085), (4.75e-3, 1.085), (4.1e-3, 1.035), (4.5e-3, 1.045),
    (4.3e-3, 0.985), (4.5e-3, 0.955),
    (4.8e-3, 1.21), (3.4e-3, 1.05), (3.5e-3, 0.95), (5.8e-3, 0.93), (3.9e-3, 0.88), (3.9e-3, 0.77),
    (5.8e-3, 0.65), (4.6e-3, 0.61), (4.7e-3, 0.54), (2.94e-3, 0.47), (5.5e-3, 0.66),
]
d_orange = [
    (8.2e-5, 0.98), (8.8e-5, 0.95), (8.4e-5, 0.91), (9.1e-5, 0.90), (8.1e-5, 0.87), (8.8e-5, 0.86),
    (9.5e-5, 0.85), (8.5e-5, 0.81), (9.2e-5, 0.80), (9.9e-5, 0.79), (8.7e-5, 0.76), (9.5e-5, 0.74),
    (1.02e-4, 0.75), (9.0e-5, 0.70), (9.8e-5, 0.69), (1.05e-4, 0.70), (9.3e-5, 0.65), (1.0e-4, 0.64),
    (1.07e-4, 0.66), (9.0e-5, 0.60), (9.7e-5, 0.59), (1.04e-4, 0.60), (9.4e-5, 0.55), (1.01e-4, 0.54),
    (9.8e-5, 0.50), (1.03e-4, 0.48),
    (8.5e-5, 0.96), (8.7e-5, 0.92), (8.5e-5, 0.88), (9.2e-5, 0.87), (8.8e-5, 0.83), (9.5e-5, 0.82),
    (9.1e-5, 0.78), (9.8e-5, 0.77), (9.3e-5, 0.72), (1.0e-4, 0.72), (9.6e-5, 0.67), (1.03e-4, 0.67),
    (9.4e-5, 0.62), (1.0e-4, 0.61), (9.7e-5, 0.57), (1.0e-4, 0.52),
    (1.13e-4, 0.97), (7.0e-5, 0.57), (7.7e-5, 0.44), (2.18e-4, 0.45),
    (8.6e-4, 1.05), (9.2e-4, 1.03), (8.3e-4, 0.99), (8.9e-4, 0.98), (9.5e-4, 0.99), (8.5e-4, 0.94),
    (9.1e-4, 0.93), (9.7e-4, 0.94), (8.2e-4, 0.89), (8.8e-4, 0.88), (9.4e-4, 0.89), (8.4e-4, 0.84),
    (9.0e-4, 0.83), (9.6e-4, 0.84), (8.1e-4, 0.79), (8.7e-4, 0.78), (9.3e-4, 0.79), (8.3e-4, 0.74),
    (8.9e-4, 0.73), (9.5e-4, 0.74), (8.5e-4, 0.69), (9.1e-4, 0.68), (8.7e-4, 0.64), (9.3e-4, 0.63),
    (8.9e-4, 0.59), (1.0e-3, 0.70),
    (8.9e-4, 1.04), (8.6e-4, 0.99), (9.2e-4, 0.96), (8.8e-4, 0.93), (8.5e-4, 0.89), (9.1e-4, 0.88),
    (8.7e-4, 0.84), (9.3e-4, 0.83), (8.4e-4, 0.79), (9.0e-4, 0.78), (8.6e-4, 0.74), (9.2e-4, 0.73),
    (8.8e-4, 0.69), (9.4e-4, 0.68), (9.0e-4, 0.64), (9.1e-4, 0.60),
    (9.2e-4, 1.12), (1.15e-3, 0.85), (1.12e-3, 0.81), (1.09e-3, 0.66), (1.09e-3, 0.44), (1.0e-3, 0.59),
    (7.4e-4, 0.57), (8.6e-4, 0.52), (7.1e-4, 0.57), (7.4e-4, 0.88),
    (4.5e-3, 1.00), (4.9e-3, 0.99), (4.6e-3, 0.95), (5.0e-3, 0.94), (4.4e-3, 0.91), (4.8e-3, 0.90),
    (5.2e-3, 0.91), (4.5e-3, 0.86), (4.9e-3, 0.85), (4.3e-3, 0.81), (4.7e-3, 0.80), (5.1e-3, 0.81),
    (4.5e-3, 0.76), (4.9e-3, 0.75), (4.3e-3, 0.71), (4.7e-3, 0.70), (5.1e-3, 0.72), (4.5e-3, 0.66),
    (4.9e-3, 0.65), (5.4e-3, 0.68),
    (4.7e-3, 0.98), (4.8e-3, 0.94), (4.6e-3, 0.90), (5.0e-3, 0.89), (4.7e-3, 0.86), (4.5e-3, 0.82),
    (4.9e-3, 0.80), (4.7e-3, 0.77), (4.5e-3, 0.73), (4.9e-3, 0.71), (4.7e-3, 0.67), (4.6e-3, 0.63),
    (5.8e-3, 1.04), (5.5e-3, 1.01), (3.8e-3, 0.79), (4.0e-3, 0.50), (3.8e-3, 0.37), (4.3e-3, 0.59),
    (5.2e-3, 0.62), (3.6e-3, 0.64),
]
d_green = [
    (3.8e-5, 0.82), (4.1e-5, 0.80), (3.6e-5, 0.78), (3.9e-5, 0.77), (4.3e-5, 0.78), (3.5e-5, 0.74),
    (3.8e-5, 0.73), (4.1e-5, 0.72), (4.5e-5, 0.73), (3.6e-5, 0.69), (3.9e-5, 0.68), (4.3e-5, 0.68),
    (3.7e-5, 0.65), (4.1e-5, 0.64), (4.5e-5, 0.70), (4.8e-5, 0.76),
    (3.9e-5, 0.80), (3.7e-5, 0.76), (4.1e-5, 0.76), (4.0e-5, 0.74), (3.7e-5, 0.71), (4.2e-5, 0.71),
    (4.0e-5, 0.67), (4.3e-5, 0.65),
    (5.8e-5, 1.14), (5.9e-5, 1.10), (6.6e-5, 0.95), (4.3e-5, 0.87), (5.4e-5, 0.88), (6.2e-5, 0.84),
    (3.3e-5, 0.77), (2.7e-5, 0.63), (2.8e-5, 0.66), (3.3e-5, 0.64), (3.9e-5, 0.57), (5.8e-5, 0.54),
    (6.7e-5, 0.68), (6.4e-5, 0.75), (5.1e-5, 0.82),
    (4.0e-4, 0.70), (4.4e-4, 0.71), (4.8e-4, 0.70), (3.8e-4, 0.66), (4.2e-4, 0.66), (4.6e-4, 0.66),
    (5.0e-4, 0.67), (3.7e-4, 0.62), (4.1e-4, 0.61), (4.5e-4, 0.62), (4.9e-4, 0.62), (5.3e-4, 0.63),
    (3.9e-4, 0.58), (4.3e-4, 0.57), (4.7e-4, 0.58), (5.1e-4, 0.58), (5.5e-4, 0.60), (4.5e-4, 0.53),
    (5.7e-4, 0.67),
    (4.2e-4, 0.69), (4.6e-4, 0.69), (4.0e-4, 0.64), (4.4e-4, 0.64), (4.8e-4, 0.64), (4.1e-4, 0.59),
    (4.5e-4, 0.59), (4.9e-4, 0.60), (4.3e-4, 0.55), (4.7e-4, 0.55), (5.2e-4, 0.66), (5.3e-4, 0.60),
    (3.2e-4, 0.54), (3.45e-4, 0.52), (3.7e-4, 0.49), (6.3e-4, 0.77), (7.0e-4, 0.70), (6.6e-4, 0.62),
    (7.0e-4, 0.82), (7.4e-4, 0.88), (6.6e-4, 0.68), (6.3e-4, 0.58),
    (2.5e-3, 0.72), (2.7e-3, 0.73), (2.4e-3, 0.68), (2.6e-3, 0.68), (2.8e-3, 0.69), (2.5e-3, 0.64),
    (2.7e-3, 0.63), (2.9e-3, 0.65), (2.6e-3, 0.59), (2.8e-3, 0.60), (3.0e-3, 0.61), (2.7e-3, 0.56),
    (2.9e-3, 0.56), (3.1e-3, 0.62), (2.3e-3, 0.70),
    (2.6e-3, 0.71), (2.5e-3, 0.66), (2.7e-3, 0.66), (2.9e-3, 0.67), (2.6e-3, 0.62), (2.8e-3, 0.62),
    (2.7e-3, 0.58), (2.9e-3, 0.59),
    (2.21e-3, 1.59), (2.1e-3, 0.58), (2.3e-3, 0.51), (2.1e-3, 0.40), (3.5e-3, 0.75), (4.2e-3, 1.07),
    (3.3e-3, 0.70), (3.5e-3, 0.66),
]

panel_tags = ["(a)", "(b)", "", ""]
panel_titles = [
    "12-3-4 scheme, traps under phase 4",
    "34-1-2 scheme, traps under phase 1",
    "23-4-1 scheme, traps under phase 4",
    "23-4-1 scheme, traps under phase 1",
]
y_ticks = [0.0, 0.5, 1.0, 1.5, 2.0]
x_tick_exponents = [-5, -4, -3, -2]

# ---------------------------------------------------------------------------
W, H = 1082, 743
FONT = "DejaVu Sans"
INK = "#1a1a1a"
BLUE, ORANGE, GREEN = "#1f77b4", "#ff7f0e", "#2ca02c"


def px(x):
    return x / W


def py(y):
    return 1 - y / H


# axes boxes in pixels: (left, right, top, bottom)
boxes = [
    (80.7, 565.0, 9.0, 330.5),
    (593.3, 1078.0, 9.0, 330.5),
    (80.7, 565.0, 359.0, 681.0),
    (593.3, 1078.0, 359.0, 681.0),
]

fig = go.Figure()

panels = [
    (a_blue, a_orange, a_green),
    (b_blue, b_orange, b_green),
    (c_blue, c_orange, c_green),
    (d_blue, d_orange, d_green),
]

for i, (blue, orange, green) in enumerate(panels):
    xa = "x" if i == 0 else f"x{i + 1}"
    ya = "y" if i == 0 else f"y{i + 1}"
    for pts, color, symbol, size, lw in (
        (blue, BLUE, "cross-thin", 6.6, 1.7),
        (orange, ORANGE, "triangle-up", 9.5, 1.0),
        (green, GREEN, "circle", 10.5, 1.0),
    ):
        fig.add_trace(go.Scatter(
            x=[p[0] for p in pts], y=[p[1] for p in pts],
            mode="markers", xaxis=xa, yaxis=ya, showlegend=False,
            marker=dict(symbol=symbol, size=size, color=color, opacity=0.5,
                        line=dict(color=color, width=lw)),
            hoverinfo="skip",
        ))

axis_common = dict(
    showline=True, mirror=True, linecolor=INK, linewidth=1.1,
    ticks="outside", ticklen=5, tickwidth=1.1, tickcolor=INK,
    showgrid=False, zeroline=False,
)

layout = dict(
    width=W, height=H, margin=dict(l=0, r=0, t=0, b=0),
    paper_bgcolor="white", plot_bgcolor="white",
    font=dict(family=FONT, color=INK),
)

for i, (l, r, t, b) in enumerate(boxes):
    xk = "xaxis" if i == 0 else f"xaxis{i + 1}"
    yk = "yaxis" if i == 0 else f"yaxis{i + 1}"
    ya = "y" if i == 0 else f"y{i + 1}"
    xa = "x" if i == 0 else f"x{i + 1}"
    layout[xk] = dict(
        axis_common, type="log", range=[-5.15, -1.85],
        tickvals=[10.0 ** e for e in x_tick_exponents], showticklabels=False,
        domain=[px(l), px(r)], anchor=ya,
    )
    layout[yk] = dict(
        axis_common, range=[-0.1, 2.1], tickvals=y_ticks,
        ticktext=[f"{v:.1f}" for v in y_ticks], showticklabels=(i % 2 == 0),
        tickfont=dict(family=FONT, size=20.5, color=INK),
        domain=[py(b), py(t)], anchor=xa,
    )

fig.update_layout(**layout)

annotations = []
for i, (l, r, t, b) in enumerate(boxes):
    xa = "x" if i == 0 else f"x{i + 1}"
    if panel_tags[i]:
        annotations.append(dict(
            text=panel_tags[i], xref="paper", yref="paper",
            x=px(l + 9), y=py(t + 32), xanchor="left", yanchor="middle",
            showarrow=False, font=dict(family=FONT, size=19, color=INK),
        ))
    title_y = t + 37 if i < 2 else t + 29
    annotations.append(dict(
        text=panel_titles[i], xref="paper", yref="paper",
        x=px((l + r) / 2 - 5), y=py(title_y), xanchor="center", yanchor="middle",
        showarrow=False, font=dict(family=FONT, size=18, color=INK),
    ))
    if i % 2 == 0:
        annotations.append(dict(
            text="<i>P<sub>c</sub></i>", xref="paper", yref="paper",
            x=px(24), y=py((t + b) / 2), xanchor="center", yanchor="middle",
            textangle=-90, showarrow=False, font=dict(family=FONT, size=21, color=INK),
        ))
    if i >= 2:
        # decade tick labels placed on the log axis positions
        for e in x_tick_exponents:
            annotations.append(dict(
                text=f"10<sup>\u2212{abs(e)}</sup>", xref=xa, yref="paper",
                x=e, y=py(697), xanchor="center", yanchor="middle",
                showarrow=False, font=dict(family=FONT, size=20, color=INK),
            ))
        annotations.append(dict(
            text="<i>τ<sub>e</sub></i> (s)", xref="paper", yref="paper",
            x=px((l + r) / 2), y=py(728), xanchor="center", yanchor="middle",
            showarrow=False, font=dict(family=FONT, size=21, color=INK),
        ))

fig.update_layout(annotations=annotations)

fig.write_html("out.html")
